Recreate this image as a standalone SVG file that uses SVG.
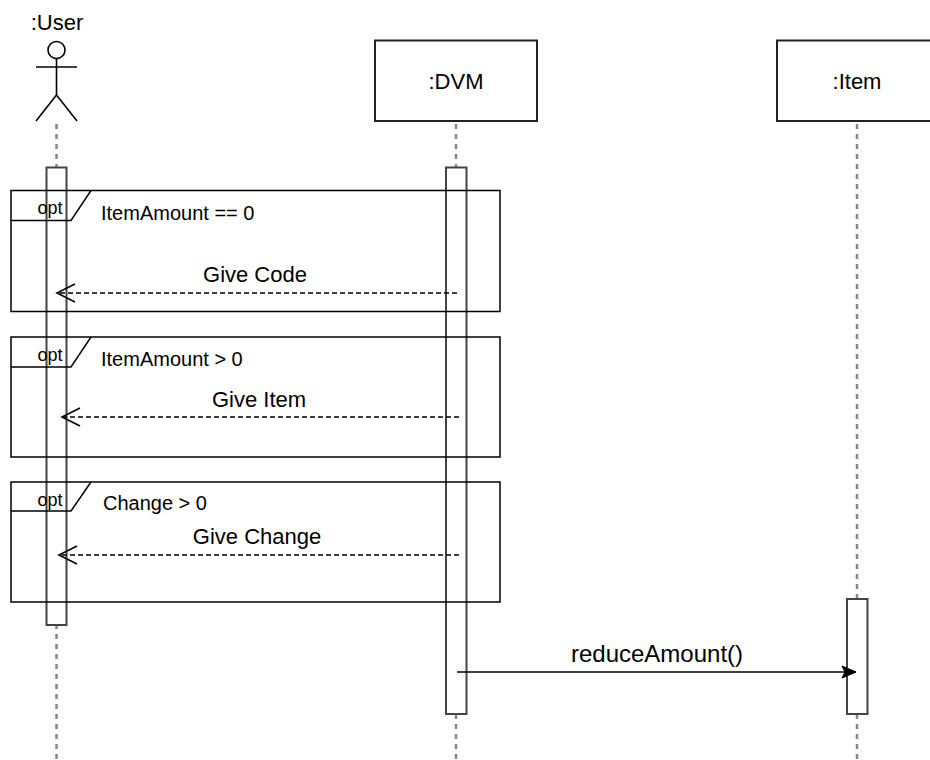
<svg xmlns="http://www.w3.org/2000/svg" width="930" height="760" viewBox="0 0 930 760">
<defs>
<style>
text{font-family:"Liberation Sans",Arial,sans-serif;fill:#000}
.life{stroke:#888;stroke-width:2.5;stroke-dasharray:5 5;fill:none}
.box{fill:#fff;stroke:#222;stroke-width:2}
.act{fill:#fff;stroke:#444;stroke-width:2}
.frame{fill:none;stroke:#000;stroke-width:1.5}
.ret{stroke:#000;stroke-width:1.3;stroke-dasharray:5 3;fill:none}
.msg{stroke:#000;stroke-width:1.6;fill:none}
.part{font-size:22px;text-anchor:middle}
.call{font-size:24px;text-anchor:middle}
.lbl{font-size:22px;text-anchor:middle}
.cond{font-size:20px}
.opt{font-size:18px;text-anchor:middle}
</style>
<marker id="open" markerWidth="24" markerHeight="24" refX="19" refY="10" orient="auto" markerUnits="userSpaceOnUse">
<path d="M1,1 L19,10 L1,19" fill="none" stroke="#000" stroke-width="1.6"/>
</marker>
<marker id="fill" markerWidth="20" markerHeight="20" refX="15" refY="8" orient="auto" markerUnits="userSpaceOnUse">
<path d="M1,2 L15,8 L1,14 L4,8 Z" fill="#000" stroke="#000" stroke-width="1"/>
</marker>
</defs>
<rect width="930" height="760" fill="#fff"/>

<g id="lifelines">
<line class="life" x1="56.5" y1="124" x2="56.5" y2="760"/>
<line class="life" x1="456" y1="124" x2="456" y2="760"/>
<line class="life" x1="857" y1="124" x2="857" y2="760"/>
</g>

<g id="user">
<text class="part" x="57" y="30">:User</text>
<circle cx="56.5" cy="50" r="8.5" fill="#fff" stroke="#000" stroke-width="1.6"/>
<line x1="56.5" y1="58.5" x2="56.5" y2="95" stroke="#000" stroke-width="1.6"/>
<line x1="36" y1="67" x2="77" y2="67" stroke="#000" stroke-width="1.6"/>
<path d="M36,121 L56.5,95 L77,121" fill="none" stroke="#000" stroke-width="1.6"/>
</g>

<g id="dvm">
<rect class="box" x="375" y="40.5" width="162" height="80.5"/>
<text class="part" x="456" y="89">:DVM</text>
</g>

<g id="item">
<rect class="box" x="777" y="40.5" width="162" height="80.5"/>
<text class="part" x="857" y="89">:Item</text>
</g>

<g id="activations">
<rect id="act-user" class="act" x="46.5" y="167.5" width="20" height="457.5"/>
<rect id="act-dvm" class="act" x="446" y="167.5" width="20.5" height="546.5"/>
<rect id="act-item" class="act" x="847" y="599" width="20.5" height="115"/>
</g>

<g id="opt1">
<rect class="frame" x="11" y="190.5" width="489" height="121"/>
<path class="frame" d="M11,220.5 L71,220.5 L91,190.5"/>
<text class="opt" x="50" y="214">opt</text>
<text class="cond" x="101" y="220">ItemAmount == 0</text>
</g>

<g id="opt2">
<rect class="frame" x="11" y="337" width="489" height="120"/>
<path class="frame" d="M11,367 L71,367 L91,337"/>
<text class="opt" x="50" y="361">opt</text>
<text class="cond" x="101" y="366">ItemAmount &gt; 0</text>
</g>

<g id="opt3">
<rect class="frame" x="11" y="482" width="489" height="120"/>
<path class="frame" d="M11,511 L71,511 L91,482"/>
<text class="opt" x="50" y="506">opt</text>
<text class="cond" x="103" y="510">Change &gt; 0</text>
</g>

<g id="connectors">
<line class="ret" x1="457" y1="293" x2="57" y2="293" marker-end="url(#open)"/>
<text class="lbl" x="255" y="282">Give Code</text>
<line class="ret" x1="459" y1="417" x2="62" y2="417" marker-end="url(#open)"/>
<text class="lbl" x="259" y="407">Give Item</text>
<line class="ret" x1="459" y1="555" x2="59" y2="555" marker-end="url(#open)"/>
<text class="lbl" x="257" y="544">Give Change</text>
<line class="msg" x1="457" y1="672" x2="856" y2="672" marker-end="url(#fill)"/>
<text class="call" x="657" y="662">reduceAmount()</text>
</g>
</svg>
